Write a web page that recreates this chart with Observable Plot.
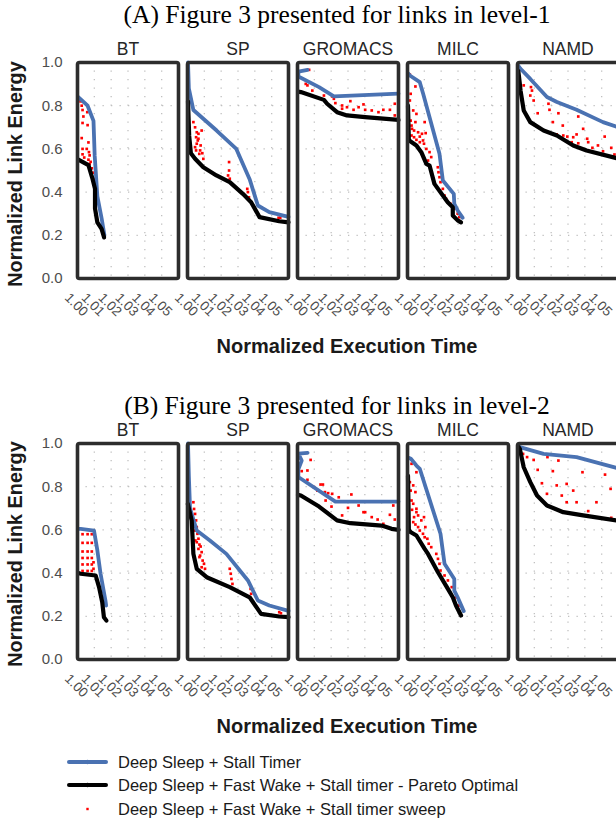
<!DOCTYPE html>
<html><head><meta charset="utf-8">
<script src="https://cdn.jsdelivr.net/npm/d3@7"></script>
<script src="https://cdn.jsdelivr.net/npm/@observablehq/plot@0.6"></script>
<style>
html,body{margin:0;padding:0;background:#fff;}
#root{position:relative;width:616px;height:823px;overflow:hidden;font-family:"Liberation Sans",Arial,Helvetica,sans-serif;}
.ttl{position:absolute;left:0;width:674px;text-align:center;font-family:"Liberation Serif","Times New Roman",serif;font-size:25.5px;line-height:22px;color:#000;white-space:nowrap;z-index:3;}
.xt{position:absolute;left:0;width:694px;text-align:center;font-weight:bold;font-size:20px;line-height:24px;color:#1a1a1a;white-space:nowrap;}
.yt{position:absolute;left:-135px;width:300px;height:24px;text-align:center;font-weight:bold;font-size:19.8px;line-height:24px;color:#1a1a1a;white-space:nowrap;transform:rotate(-90deg);}
.pbox{position:absolute;left:0;z-index:1;}
.lgt{position:absolute;left:118px;font-size:16.5px;line-height:20px;color:#1a1a1a;white-space:nowrap;}
</style></head>
<body>
<div id="root">
  <div class="ttl" style="top:4px">(A) Figure 3 presented for links in level-1</div>
  <div class="ttl" style="top:395px">(B) Figure 3 presented for links in level-2</div>
  <div class="pbox" id="pA" style="top:28px"></div>
  <div class="pbox" id="pB" style="top:409px"></div>
  <div class="xt" style="top:334px">Normalized Execution Time</div>
  <div class="xt" style="top:714px">Normalized Execution Time</div>
  <div class="yt" style="top:162px">Normalized Link Energy</div>
  <div class="yt" style="top:542px">Normalized Link Energy</div>
  <svg id="leg" style="position:absolute;left:0;top:750px" width="616" height="73"></svg>
  <div class="lgt" style="top:752px">Deep Sleep + Stall Timer</div>
  <div class="lgt" style="top:775px">Deep Sleep + Fast Wake + Stall timer - Pareto Optimal</div>
  <div class="lgt" style="top:799px">Deep Sleep + Fast Wake + Stall timer sweep</div>
</div>
<script>
const apps = ["BT", "SP", "GROMACS", "MILC", "NAMD"];
const xTicks = [1.00, 1.01, 1.02, 1.03, 1.04, 1.05];
const yTicks = [0.0, 0.2, 0.4, 0.6, 0.8, 1.0];

// ---------- Level-1 ----------
const bt1Blue = [[1.0005,0.84],[1.006,0.80],[1.0095,0.73],[1.0102,0.57],[1.0118,0.38],[1.0143,0.28],[1.016,0.20]];
const bt1Black = [[1.0005,0.55],[1.0065,0.525],[1.0088,0.465],[1.0104,0.415],[1.0104,0.325],[1.0118,0.26],[1.0143,0.23],[1.0158,0.19]];
const bt1Red = [[1.0018,0.82],[1.0025,0.80],[1.003,0.78],[1.0058,0.77],[1.0035,0.75],[1.003,0.72],[1.006,0.71],[1.0025,0.65],[1.0065,0.63],[1.003,0.60],[1.0055,0.60],[1.0068,0.585],[1.003,0.575],[1.0072,0.57],[1.004,0.56],[1.0065,0.55],[1.0078,0.54],[1.0072,0.53],[1.0085,0.51],[1.009,0.49],[1.0095,0.46]];

const sp1Blue = [[1.0003,1.0],[1.0008,0.88],[1.0035,0.78],[1.0173,0.685],[1.029,0.60],[1.0369,0.46],[1.0418,0.338],[1.0486,0.307],[1.06,0.285]];
const sp1Black = [[1.0003,0.82],[1.001,0.66],[1.002,0.58],[1.0045,0.554],[1.0094,0.515],[1.0172,0.477],[1.0251,0.446],[1.0329,0.392],[1.0378,0.353],[1.0428,0.284],[1.0545,0.265],[1.06,0.26]];
const sp1Red = [[1.0035,0.724],[1.0045,0.70],[1.0055,0.677],[1.0084,0.685],[1.0065,0.67],[1.0051,0.654],[1.0061,0.639],[1.0065,0.647],[1.0055,0.624],[1.0078,0.616],[1.0045,0.608],[1.0051,0.593],[1.0075,0.593],[1.0088,0.58],[1.007,0.577],[1.0094,0.554],[1.0247,0.539],[1.0247,0.50],[1.0241,0.477],[1.0251,0.462],[1.0355,0.415],[1.0359,0.40],[1.0365,0.376],[1.0541,0.281],[1.0551,0.281]];

const gr1Blue = [[1.006,0.966],[1.0005,0.958],[1.0005,0.935],[1.0128,0.886],[1.0216,0.843],[1.06,0.856]];
const gr1Black = [[1.0003,0.865],[1.002,0.863],[1.0157,0.827],[1.0176,0.809],[1.0235,0.770],[1.0294,0.755],[1.0402,0.747],[1.06,0.734]];
const gr1Red = [[1.0069,0.966],[1.0049,0.901],[1.0059,0.894],[1.0088,0.870],[1.0157,0.847],[1.0206,0.843],[1.0216,0.832],[1.0225,0.812],[1.0265,0.801],[1.0265,0.786],[1.0314,0.821],[1.0294,0.793],[1.0333,0.781],[1.0392,0.806],[1.0402,0.781],[1.0441,0.778],[1.0481,0.770],[1.051,0.781],[1.0549,0.781],[1.0578,0.755],[1.0578,0.809],[1.0363,0.793]];

const mi1Blue = [[1.0003,0.95],[1.0014,0.94],[1.0073,0.909],[1.0093,0.855],[1.019,0.577],[1.021,0.454],[1.0275,0.392],[1.0278,0.346],[1.0298,0.315],[1.0328,0.281]];
const mi1Black = [[1.0003,0.80],[1.0008,0.64],[1.0053,0.616],[1.0082,0.585],[1.0112,0.531],[1.0131,0.523],[1.016,0.438],[1.021,0.384],[1.0239,0.353],[1.0269,0.33],[1.0269,0.292],[1.0298,0.269],[1.0318,0.26]];
const mi1Red = [[1.0014,0.944],[1.0047,0.889],[1.0019,0.855],[1.0014,0.824],[1.0034,0.778],[1.0053,0.762],[1.0019,0.731],[1.0047,0.724],[1.0102,0.724],[1.0024,0.708],[1.0027,0.693],[1.0039,0.685],[1.0063,0.677],[1.0024,0.662],[1.0039,0.654],[1.0053,0.642],[1.0073,0.657],[1.0086,0.670],[1.0108,0.673],[1.0092,0.639],[1.0073,0.631],[1.0098,0.624],[1.0112,0.60],[1.0131,0.585],[1.0141,0.562],[1.0122,0.546],[1.018,0.515],[1.0184,0.492],[1.019,0.469],[1.0196,0.446],[1.021,0.415],[1.022,0.384],[1.0229,0.369],[1.0255,0.346],[1.0278,0.323],[1.0298,0.30],[1.0308,0.284]];

const na1Blue = [[1.0005,0.985],[1.0018,0.971],[1.0076,0.924],[1.0175,0.84],[1.0234,0.817],[1.0351,0.781],[1.0508,0.724],[1.06,0.70]];
const na1Black = [[1.0005,0.96],[1.0014,0.90],[1.0018,0.87],[1.0037,0.778],[1.0076,0.724],[1.0155,0.685],[1.0234,0.662],[1.0331,0.616],[1.041,0.593],[1.06,0.555]];
const na1Red = [[1.0037,0.894],[1.0086,0.870],[1.008,0.886],[1.0096,0.824],[1.012,0.765],[1.0184,0.809],[1.019,0.781],[1.0243,0.765],[1.021,0.724],[1.0269,0.708],[1.0233,0.667],[1.0272,0.662],[1.0296,0.657],[1.0331,0.654],[1.0351,0.667],[1.0322,0.631],[1.0361,0.626],[1.0361,0.75],[1.039,0.693],[1.0414,0.647],[1.042,0.631],[1.0445,0.605],[1.0478,0.616],[1.0518,0.657],[1.0557,0.605],[1.0576,0.574],[1.0508,0.589],[1.0076,0.847]];

// ---------- Level-2 ----------
const bt2Blue = [[1.0005,0.605],[1.0019,0.605],[1.0098,0.597],[1.0118,0.505],[1.0137,0.397],[1.0166,0.273],[1.017,0.25]];
const bt2Black = [[1.0005,0.40],[1.0019,0.397],[1.0108,0.389],[1.0128,0.335],[1.0147,0.265],[1.0157,0.196],[1.0172,0.18]];
const bt2Red = [[1.003,0.58],[1.006,0.58],[1.0085,0.58],[1.003,0.54],[1.006,0.54],[1.0085,0.54],[1.003,0.50],[1.006,0.50],[1.0085,0.50],[1.003,0.47],[1.006,0.47],[1.0085,0.47],[1.003,0.44],[1.006,0.44],[1.0085,0.44],[1.003,0.41],[1.006,0.41],[1.0085,0.41],[1.0095,0.45],[1.0095,0.42]];

const sp2Blue = [[1.0003,1.0],[1.0008,0.85],[1.0015,0.70],[1.0055,0.597],[1.0133,0.551],[1.0231,0.489],[1.0359,0.366],[1.0418,0.273],[1.0486,0.25],[1.06,0.225]];
const sp2Black = [[1.0002,0.72],[1.0025,0.644],[1.0035,0.489],[1.0055,0.42],[1.0114,0.381],[1.0251,0.335],[1.0369,0.288],[1.0437,0.211],[1.0545,0.199],[1.06,0.196]];
const sp2Red = [[1.0035,0.728],[1.0039,0.697],[1.0045,0.674],[1.0051,0.644],[1.0055,0.613],[1.0045,0.597],[1.0059,0.582],[1.0065,0.559],[1.0047,0.551],[1.0055,0.543],[1.0071,0.532],[1.0078,0.523],[1.0065,0.512],[1.0084,0.497],[1.0075,0.481],[1.0071,0.474],[1.009,0.458],[1.0098,0.443],[1.0084,0.427],[1.0104,0.42],[1.0251,0.42],[1.0257,0.397],[1.0261,0.373],[1.0267,0.35],[1.0369,0.35],[1.0375,0.327],[1.0378,0.304],[1.0545,0.219],[1.0555,0.214]];

const gr2Blue = [[1.006,0.957],[1.0005,0.953],[1.0025,0.921],[1.0005,0.88],[1.0005,0.845],[1.0225,0.731],[1.06,0.731]];
const gr2Black = [[1.0003,0.762],[1.002,0.759],[1.0128,0.708],[1.0235,0.644],[1.0314,0.631],[1.05,0.62],[1.0559,0.605],[1.06,0.60]];
const gr2Red = [[1.0078,0.924],[1.0025,0.872],[1.0059,0.875],[1.0059,0.832],[1.0137,0.810],[1.0151,0.810],[1.0163,0.775],[1.0182,0.770],[1.0206,0.767],[1.0167,0.736],[1.0202,0.708],[1.0245,0.751],[1.0265,0.667],[1.03,0.702],[1.032,0.764],[1.0363,0.713],[1.0392,0.682],[1.0402,0.682],[1.0441,0.659],[1.0476,0.648],[1.0549,0.670],[1.0569,0.713],[1.0578,0.648],[1.051,0.628],[1.0098,0.798],[1.0118,0.782]];

const mi2Blue = [[1.0003,0.935],[1.002,0.929],[1.0053,0.898],[1.0073,0.883],[1.0196,0.582],[1.022,0.443],[1.0278,0.373],[1.0278,0.319],[1.0298,0.288],[1.0334,0.224]];
const mi2Black = [[1.0003,0.85],[1.0008,0.60],[1.002,0.589],[1.0053,0.574],[1.0102,0.512],[1.0122,0.489],[1.0181,0.404],[1.024,0.327],[1.0269,0.288],[1.0288,0.25],[1.0318,0.204]];
const mi2Red = [[1.0024,0.906],[1.0053,0.867],[1.0014,0.821],[1.0034,0.806],[1.0019,0.782],[1.0047,0.775],[1.0024,0.736],[1.0034,0.721],[1.0053,0.698],[1.0027,0.693],[1.0053,0.682],[1.0063,0.667],[1.0039,0.659],[1.0034,0.636],[1.0047,0.625],[1.0063,0.613],[1.0082,0.644],[1.0098,0.659],[1.0106,0.613],[1.0073,0.597],[1.0092,0.582],[1.0102,0.566],[1.0118,0.559],[1.0126,0.536],[1.0141,0.52],[1.0171,0.489],[1.0181,0.466],[1.019,0.443],[1.0196,0.412],[1.022,0.389],[1.024,0.366],[1.0263,0.335],[1.0288,0.288],[1.0308,0.25]];

const na2Blue = [[1.0005,0.99],[1.0014,0.983],[1.0155,0.952],[1.0351,0.937],[1.06,0.885]];
const na2Black = [[1.0005,0.985],[1.0014,0.975],[1.0037,0.89],[1.0076,0.821],[1.0116,0.759],[1.0175,0.713],[1.0272,0.682],[1.039,0.667],[1.06,0.642]];
const na2Red = [[1.0033,0.952],[1.0096,0.924],[1.0178,0.937],[1.0243,0.921],[1.012,0.878],[1.021,0.872],[1.0386,0.867],[1.052,0.856],[1.0145,0.816],[1.0233,0.806],[1.0292,0.813],[1.0175,0.767],[1.0263,0.759],[1.0331,0.782],[1.0351,0.728],[1.0469,0.728],[1.0553,0.790],[1.0292,0.728],[1.042,0.687],[1.0557,0.656],[1.0057,0.937]];

const BLUE = "#4a72b2";
const BLACK = "#000000";
const RED = "#ff0000";

function rows(list) {
  const out = [];
  list.forEach((arr, i) => arr.forEach(([t, v]) => out.push({app: apps[i], t, v})));
  return out;
}

function makeLevel(blueList, blackList, redList) {
  const blue = rows(blueList), black = rows(blackList), red = rows(redList);
  const grid = {stroke: "#c0c0c0", strokeOpacity: 1, strokeWidth: 1.3, strokeDasharray: "1.3,7.2"};
  return Plot.plot({
    width: 622, height: 312,
    marginLeft: 75, marginRight: 1, marginTop: 34, marginBottom: 62,
    style: {background: "transparent", maxWidth: "none", overflow: "visible", fontFamily: "'Liberation Sans', Arial, sans-serif"},
    x: {domain: [1, 1.06], axis: null},
    y: {domain: [0, 1], axis: null},
    fx: {domain: apps, paddingInner: 0.081, paddingOuter: 0, axis: null},
    marks: [
      Plot.gridY([0.2, 0.4, 0.6, 0.8], grid),
      Plot.gridX([1.01, 1.02, 1.03, 1.04, 1.05], grid),
      Plot.dot(red, {x: "t", y: "v", fx: "app", symbol: "square", r: 1.5, fill: RED}),
      Plot.line(blue, {x: "t", y: "v", fx: "app", z: "app", stroke: BLUE, strokeWidth: 3.8}),
      Plot.line(black, {x: "t", y: "v", fx: "app", z: "app", stroke: BLACK, strokeWidth: 4.2}),
      Plot.frame({stroke: "#2d2d2d", strokeWidth: 3.6, rx: 2}),
      Plot.text(apps, {fx: d => d, text: d => d, frameAnchor: "top", dy: -20, fontSize: 17.5, fill: "#262626"}),
      Plot.axisY(yTicks, {tickFormat: d3.format(".1f"), tickSize: 0, tickPadding: 15, fontSize: 15, fill: "#4d4d4d", label: null}),
      Plot.text(xTicks, {x: d => d, frameAnchor: "bottom", text: d3.format(".2f"), rotate: 45, textAnchor: "start", lineAnchor: "middle", dx: -10.5, dy: 17, fontSize: 13.5, fill: "#4d4d4d"})
    ]
  });
}

document.getElementById("pA").appendChild(makeLevel(
  [bt1Blue, sp1Blue, gr1Blue, mi1Blue, na1Blue],
  [bt1Black, sp1Black, gr1Black, mi1Black, na1Black],
  [bt1Red, sp1Red, gr1Red, mi1Red, na1Red]));
document.getElementById("pB").appendChild(makeLevel(
  [bt2Blue, sp2Blue, gr2Blue, mi2Blue, na2Blue],
  [bt2Black, sp2Black, gr2Black, mi2Black, na2Black],
  [bt2Red, sp2Red, gr2Red, mi2Red, na2Red]));

// legend keys
const leg = d3.select("#leg");
const keyY = [12, 35, 59];
leg.append("line").attr("x1", 69).attr("x2", 106).attr("y1", keyY[0]).attr("y2", keyY[0]).attr("stroke", BLUE).attr("stroke-width", 4).attr("stroke-linecap", "round");
leg.append("circle").attr("cx", 87.5).attr("cy", keyY[0]).attr("r", 2.2).attr("fill", BLUE);
leg.append("line").attr("x1", 69).attr("x2", 106).attr("y1", keyY[1]).attr("y2", keyY[1]).attr("stroke", BLACK).attr("stroke-width", 4).attr("stroke-linecap", "round");
leg.append("circle").attr("cx", 87.5).attr("cy", keyY[1]).attr("r", 2.2).attr("fill", BLACK);
leg.append("rect").attr("x", 86.3).attr("y", keyY[2] - 1.2).attr("width", 2.4).attr("height", 2.4).attr("fill", RED);
</script>
</body></html>
